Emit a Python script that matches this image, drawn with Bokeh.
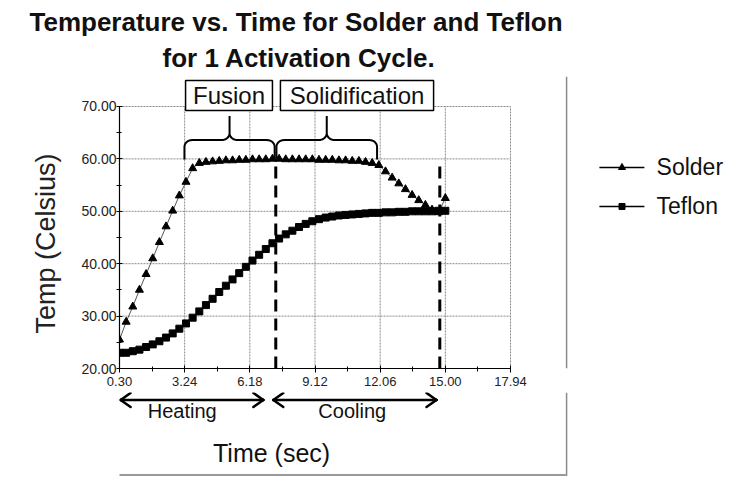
from bokeh.plotting import figure
from bokeh.layouts import column
from bokeh.models import Range1d, FixedTicker, NumeralTickFormatter, Title, ColumnDataSource
from bokeh.embed import file_html
from bokeh.resources import INLINE

# ---------------- data ----------------
time_s = [0.3, 0.6, 0.9, 1.2, 1.5, 1.8, 2.1, 2.4, 2.7, 3.0,
          3.3, 3.6, 3.9, 4.2, 4.5, 4.8, 5.1, 5.4, 5.7, 6.0,
          6.3, 6.6, 6.9, 7.2, 7.5, 7.8, 8.1, 8.4, 8.7, 9.0,
          9.3, 9.6, 9.9, 10.2, 10.5, 10.8, 11.1, 11.4, 11.7, 12.0,
          12.3, 12.6, 12.9, 13.2, 13.5, 13.8, 14.1, 14.4, 14.7, 15.0]
solder = [25.5, 28.9, 31.8, 35.0, 38.0, 41.0, 44.1, 47.1, 50.1, 53.0,
          55.6, 58.2, 59.2, 59.4, 59.5, 59.6, 59.7, 59.7, 59.8, 59.8,
          59.9, 59.9, 59.9, 60.0, 60.0, 59.9, 59.9, 59.9, 59.9, 59.9,
          59.8, 59.8, 59.8, 59.7, 59.7, 59.6, 59.6, 59.4, 59.2, 58.8,
          57.6, 56.4, 55.3, 54.2, 53.1, 52.1, 51.2, 50.3, 49.8, 52.5]
teflon = [23.0, 23.0, 23.3, 23.6, 24.1, 24.6, 25.2, 25.9, 26.7, 27.6,
          28.6, 29.7, 30.9, 32.1, 33.3, 34.6, 35.8, 37.0, 38.2, 39.4,
          40.6, 41.7, 42.8, 43.9, 44.8, 45.6, 46.3, 47.0, 47.6, 48.1,
          48.5, 48.8, 49.0, 49.2, 49.3, 49.4, 49.5, 49.6, 49.7, 49.7,
          49.8, 49.8, 49.9, 49.9, 50.0, 50.0, 50.0, 50.0, 50.1, 50.1]

x_ticks = [0.30, 3.24, 6.18, 9.12, 12.06, 15.00, 17.94]
x_minor = [1.77, 4.71, 7.65, 10.59, 13.53, 16.47]
y_ticks = [20, 30, 40, 50, 60, 70]
y_minor = [25, 35, 45, 55, 65]
X_MIN, X_MAX = 0.30, 17.94
Y_MIN, Y_MAX = 20, 70

# annotation geometry (in the chart's own units: seconds / deg C)
phase_lines = [7.35, 14.75]
phase_line_tops = [59.6, 58.8]
brace_spans = [(3.23, 7.30), (7.38, 11.92)]
box_left = [3.28, 7.56]
box_right = [7.20, 14.47]
box_bottom = [69.24, 69.24]
box_top = [74.96, 74.96]
box_text = ["Fusion", "Solidification"]
arrow_spans = [(0.35, 6.79), (7.24, 14.6)]
arrow_y = 14.0
arrow_text = ["Heating", "Cooling"]
arrow_text_x = [3.13, 10.80]
arrow_text_y = 11.8
xlabel_x, xlabel_y = 7.16, 3.95
legend_names = ["Solder", "Teflon"]
legend_y = [58.36, 50.92]
legend_x0, legend_x1, legend_xm, legend_tx = 21.95, 23.98, 22.97, 24.53
frame_line_x = 20.47
bottom_line_y = -0.42

FONT = "Liberation Sans"
INK = "#111111"

# ---------------- main chart ----------------
p = figure(width=724, height=392, output_backend="svg", toolbar_location=None,
           x_range=Range1d(X_MIN, 27.594), y_range=Range1d(Y_MIN, 75.725),
           min_border_left=119, min_border_right=0, min_border_top=76,
           min_border_bottom=24, title="Temperature vs. Time for Solder and Teflon",
           background_fill_color="white", border_fill_color="white")
p.outline_line_color = None
p.xgrid.visible = False
p.ygrid.visible = False

p.title.text_font = FONT
p.title.text_font_size = "26px"
p.title.text_font_style = "bold"
p.title.text_color = INK
p.title.align = "left"
p.title.offset = -90
p.title.standoff = 0
t2 = Title(text="for 1 Activation Cycle.", text_font=FONT,
           text_font_size="26px", text_font_style="bold", text_color=INK,
           align="left", offset=43, standoff=8)
p.add_layout(t2, "above")

p.xaxis.ticker = FixedTicker(ticks=x_ticks, minor_ticks=x_minor)
p.yaxis.ticker = FixedTicker(ticks=y_ticks, minor_ticks=y_minor)
p.xaxis.formatter = NumeralTickFormatter(format="0.00")
p.yaxis.formatter = NumeralTickFormatter(format="0.00")
p.xaxis.bounds = (X_MIN, X_MAX)
p.yaxis.bounds = (Y_MIN, Y_MAX)
for ax in (p.xaxis, p.yaxis):
    ax.axis_line_color = "black"
    ax.axis_line_width = 1.2
    ax.major_tick_line_color = "black"
    ax.minor_tick_line_color = "black"
    ax.major_tick_in = 3
    ax.major_tick_out = 4
    ax.minor_tick_in = 2
    ax.minor_tick_out = 3
    ax.major_label_text_font = FONT
    ax.major_label_text_font_size = "14px"
    ax.major_label_text_color = "#222222"
p.xaxis.major_label_text_font_size = "13px"
p.xaxis.major_label_standoff = 4
p.yaxis.major_tick_out = 3
p.yaxis.major_label_standoff = 0

# y-axis title, placed as a rotated side title
ytitle = Title(text="Temp (Celsius)", text_font=FONT, text_font_size="27px",
               text_font_style="normal", text_color="#222222",
               align="left", offset=35, standoff=36)
p.add_layout(ytitle, "left")

# grid lines at the ticks, limited to the plot area
grid_kw = dict(line_color="#8a8a8a", line_width=1, line_dash="2 1")
p.segment(x0=[X_MIN] * len(y_ticks), y0=y_ticks, x1=[X_MAX] * len(y_ticks), y1=y_ticks, **grid_kw)
p.segment(x0=x_ticks, y0=[Y_MIN] * len(x_ticks), x1=x_ticks, y1=[Y_MAX] * len(x_ticks), **grid_kw)

# series
src = ColumnDataSource(dict(t=time_s, solder=solder, teflon=teflon))
p.line("t", "solder", source=src, line_color="#555555", line_width=1)
p.scatter("t", "solder", source=src, marker="triangle", size=8,
          fill_color="black", line_color="black")
p.line("t", "teflon", source=src, line_color="black", line_width=1.5)
p.scatter("t", "teflon", source=src, marker="square", size=7,
          fill_color="black", line_color="black")

# dashed phase boundaries
p.segment(x0=phase_lines, y0=[Y_MIN, Y_MIN], x1=phase_lines, y1=phase_line_tops,
          line_color="black", line_width=3, line_dash="12 7")


# curly braces
def brace(x0, x1, yb=59.9, ym=63.6, yt=68.2, rx=0.35, ry=1.3):
    import math
    xc = (x0 + x1) / 2
    xs, ys = [x0], [yb]

    def arc(cx, cy, a0, a1):
        for k in range(9):
            a = math.radians(a0 + (a1 - a0) * k / 8)
            xs.append(cx + rx * math.cos(a))
            ys.append(cy + ry * math.sin(a))
    arc(x0 + rx, ym - ry, 180, 90)
    arc(xc - rx, ym + ry, 270, 360)
    xs.append(xc); ys.append(yt)
    xs.append(xc); ys.append(ym + ry)
    arc(xc + rx, ym + ry, 180, 270)
    arc(x1 - rx, ym - ry, 90, 0)
    xs.append(x1); ys.append(yb)
    return xs, ys


bx, by = [], []
for (a, b) in brace_spans:
    xs, ys = brace(a, b)
    bx.append(xs); by.append(ys)
p.multi_line(bx, by, line_color="black", line_width=2)

# boxed phase labels
p.quad(left=box_left, right=box_right, bottom=box_bottom, top=box_top,
       fill_color="white", line_color="black", line_width=1.5)
p.text(x=[(a + b) / 2 for a, b in zip(box_left, box_right)],
       y=[(a + b) / 2 for a, b in zip(box_bottom, box_top)], text=box_text,
       text_align="center", text_baseline="middle", text_font={"value": FONT},
       text_font_size="24px", text_color=INK)

# legend (drawn beside the plot area)
p.segment(x0=[legend_x0] * 2, y0=legend_y, x1=[legend_x1] * 2, y1=legend_y,
          line_color="black", line_width=1.5)
p.scatter(x=[legend_xm], y=[legend_y[0]], marker="triangle", size=7, color="black")
p.scatter(x=[legend_xm], y=[legend_y[1]], marker="square", size=6, color="black")
p.text(x=[legend_tx] * 2, y=legend_y, text=legend_names, text_align="left",
       text_baseline="middle", text_font={"value": FONT}, text_font_size="23px",
       text_color=INK)

# slide frame line at right
p.segment(x0=[frame_line_x], y0=[Y_MIN], x1=[frame_line_x], y1=[75.725],
          line_color="#8c8c8c", line_width=1.5)

# ---------------- strip below the axis (shares the time scale) ----------------
q = figure(width=724, height=84, output_backend="svg", toolbar_location=None,
           x_range=p.x_range, y_range=Range1d(-0.611, 15.42),
           x_axis_type=None, y_axis_type=None,
           min_border_left=119, min_border_right=0, min_border_top=0,
           min_border_bottom=0, background_fill_color="white",
           border_fill_color="white")
q.outline_line_color = None
q.grid.visible = False

hx, hy = 0.45, 1.34
ax0, ay0, ax1, ay1 = [], [], [], []
for (a, b) in arrow_spans:
    ax0 += [a, a, a, b, b]
    ay0 += [arrow_y] * 5
    ax1 += [b, a + hx, a + hx, b - hx, b - hx]
    ay1 += [arrow_y, arrow_y + hy, arrow_y - hy, arrow_y + hy, arrow_y - hy]
q.segment(x0=ax0, y0=ay0, x1=ax1, y1=ay1, line_color="black", line_width=2.5,
          line_cap="round")
q.text(x=arrow_text_x, y=[arrow_text_y] * 2, text=arrow_text, text_align="center",
       text_baseline="alphabetic", text_font={"value": FONT}, text_font_size="20px",
       text_color=INK)
q.text(x=[xlabel_x], y=[xlabel_y], text=["Time (sec)"], text_align="center",
       text_baseline="alphabetic", text_font={"value": FONT}, text_font_size="25px",
       text_color=INK)
q.segment(x0=[frame_line_x], y0=[-0.611], x1=[frame_line_x], y1=[15.42],
          line_color="#8c8c8c", line_width=1.5)
q.segment(x0=[X_MIN - 6], y0=[bottom_line_y], x1=[frame_line_x], y1=[bottom_line_y],
          line_color="#9a9a9a", line_width=3)

open("out.html", "w").write(file_html(column(p, q), INLINE))
